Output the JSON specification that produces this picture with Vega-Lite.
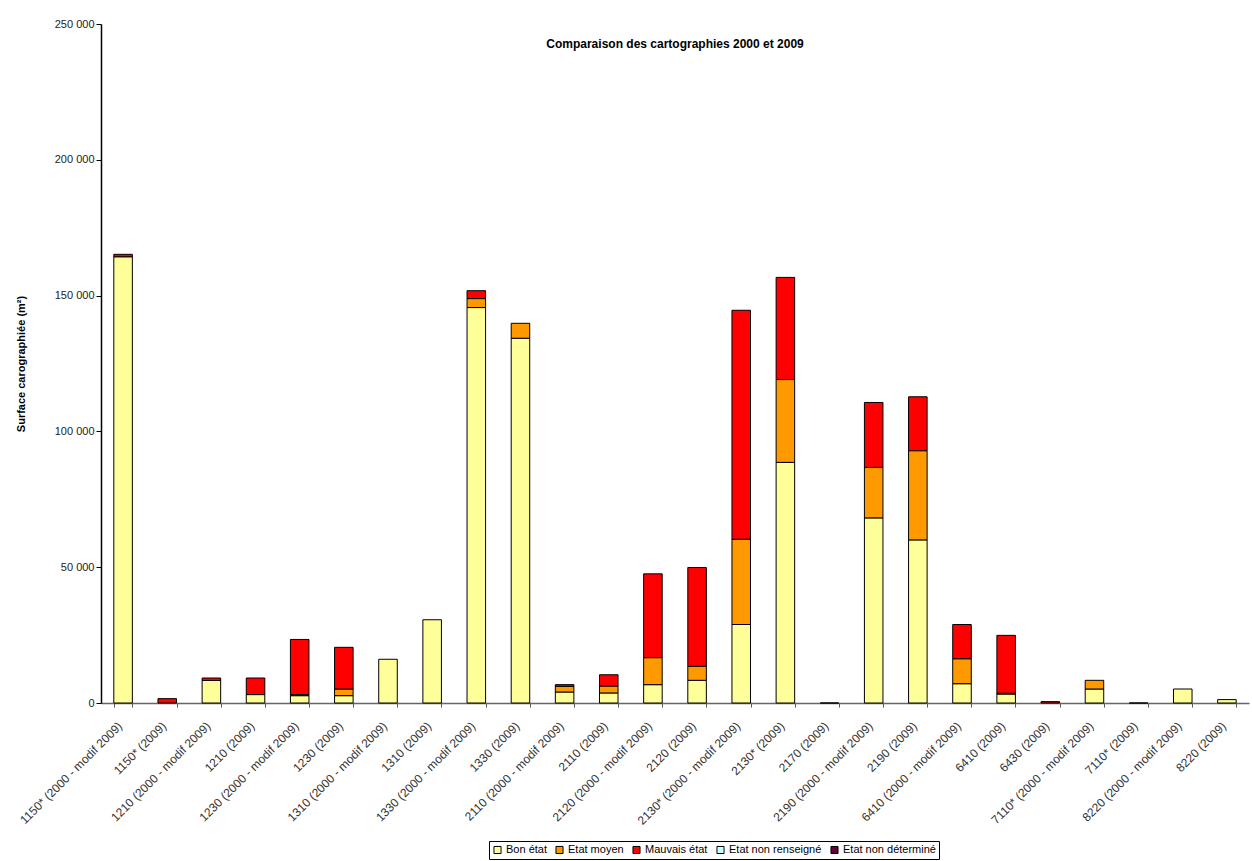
{
  "$schema": "https://vega.github.io/schema/vega-lite/v6.json",
  "autosize": {"type": "none"},
  "padding": {"left": 101, "top": 24, "right": 3, "bottom": 158},
  "width": 1148,
  "height": 679,
  "background": "white",
  "config": {
    "locale": {"number": {"decimal": ",", "thousands": " ", "grouping": [3], "currency": ["", " €"]}},
    "font": "Liberation Sans",
    "view": {"stroke": null}
  },
  "title": {
    "text": "Comparaison des cartographies 2000 et 2009",
    "font": "Liberation Sans",
    "fontSize": 12,
    "fontWeight": "bold",
    "color": "#000000",
    "anchor": "middle",
    "offset": -33
  },
  "data": {
    "values": [
      {"habitat": "1150* (2000 - modif 2009)", "etat": "Bon état", "surface": 164300},
      {"habitat": "1150* (2000 - modif 2009)", "etat": "Mauvais état", "surface": 900},
      {"habitat": "1150* (2009)", "etat": "Mauvais état", "surface": 1600},
      {"habitat": "1210 (2000 - modif 2009)", "etat": "Bon état", "surface": 8300},
      {"habitat": "1210 (2000 - modif 2009)", "etat": "Mauvais état", "surface": 900},
      {"habitat": "1210 (2009)", "etat": "Bon état", "surface": 3100},
      {"habitat": "1210 (2009)", "etat": "Mauvais état", "surface": 6100},
      {"habitat": "1230 (2000 - modif 2009)", "etat": "Bon état", "surface": 2700},
      {"habitat": "1230 (2000 - modif 2009)", "etat": "Etat moyen", "surface": 400},
      {"habitat": "1230 (2000 - modif 2009)", "etat": "Mauvais état", "surface": 20300},
      {"habitat": "1230 (2009)", "etat": "Bon état", "surface": 2700},
      {"habitat": "1230 (2009)", "etat": "Etat moyen", "surface": 2450},
      {"habitat": "1230 (2009)", "etat": "Mauvais état", "surface": 15350},
      {"habitat": "1310 (2000 - modif 2009)", "etat": "Bon état", "surface": 16100},
      {"habitat": "1310 (2009)", "etat": "Bon état", "surface": 30650},
      {"habitat": "1330 (2000 - modif 2009)", "etat": "Bon état", "surface": 145600},
      {"habitat": "1330 (2000 - modif 2009)", "etat": "Etat moyen", "surface": 3300},
      {"habitat": "1330 (2000 - modif 2009)", "etat": "Mauvais état", "surface": 2900},
      {"habitat": "1330 (2009)", "etat": "Bon état", "surface": 134300},
      {"habitat": "1330 (2009)", "etat": "Etat moyen", "surface": 5500},
      {"habitat": "2110 (2000 - modif 2009)", "etat": "Bon état", "surface": 4050},
      {"habitat": "2110 (2000 - modif 2009)", "etat": "Etat moyen", "surface": 2100},
      {"habitat": "2110 (2000 - modif 2009)", "etat": "Mauvais état", "surface": 600},
      {"habitat": "2110 (2009)", "etat": "Bon état", "surface": 3700},
      {"habitat": "2110 (2009)", "etat": "Etat moyen", "surface": 2550},
      {"habitat": "2110 (2009)", "etat": "Mauvais état", "surface": 4150},
      {"habitat": "2120 (2000 - modif 2009)", "etat": "Bon état", "surface": 6750},
      {"habitat": "2120 (2000 - modif 2009)", "etat": "Etat moyen", "surface": 9950},
      {"habitat": "2120 (2000 - modif 2009)", "etat": "Mauvais état", "surface": 30850},
      {"habitat": "2120 (2009)", "etat": "Bon état", "surface": 8350},
      {"habitat": "2120 (2009)", "etat": "Etat moyen", "surface": 5150},
      {"habitat": "2120 (2009)", "etat": "Mauvais état", "surface": 36400},
      {"habitat": "2130* (2000 - modif 2009)", "etat": "Bon état", "surface": 28900},
      {"habitat": "2130* (2000 - modif 2009)", "etat": "Etat moyen", "surface": 31400},
      {"habitat": "2130* (2000 - modif 2009)", "etat": "Mauvais état", "surface": 84300},
      {"habitat": "2130* (2009)", "etat": "Bon état", "surface": 88600},
      {"habitat": "2130* (2009)", "etat": "Etat moyen", "surface": 30500},
      {"habitat": "2130* (2009)", "etat": "Mauvais état", "surface": 37600},
      {"habitat": "2170 (2009)", "etat": "Bon état", "surface": 0},
      {"habitat": "2190 (2000 - modif 2009)", "etat": "Bon état", "surface": 68150},
      {"habitat": "2190 (2000 - modif 2009)", "etat": "Etat moyen", "surface": 18600},
      {"habitat": "2190 (2000 - modif 2009)", "etat": "Mauvais état", "surface": 23900},
      {"habitat": "2190 (2009)", "etat": "Bon état", "surface": 60050},
      {"habitat": "2190 (2009)", "etat": "Etat moyen", "surface": 32850},
      {"habitat": "2190 (2009)", "etat": "Mauvais état", "surface": 19850},
      {"habitat": "6410 (2000 - modif 2009)", "etat": "Bon état", "surface": 7100},
      {"habitat": "6410 (2000 - modif 2009)", "etat": "Etat moyen", "surface": 9200},
      {"habitat": "6410 (2000 - modif 2009)", "etat": "Mauvais état", "surface": 12600},
      {"habitat": "6410 (2009)", "etat": "Bon état", "surface": 3300},
      {"habitat": "6410 (2009)", "etat": "Etat moyen", "surface": 300},
      {"habitat": "6410 (2009)", "etat": "Mauvais état", "surface": 21300},
      {"habitat": "6430 (2009)", "etat": "Mauvais état", "surface": 500},
      {"habitat": "7110* (2000 - modif 2009)", "etat": "Bon état", "surface": 5150},
      {"habitat": "7110* (2000 - modif 2009)", "etat": "Etat moyen", "surface": 3200},
      {"habitat": "7110* (2009)", "etat": "Bon état", "surface": 0},
      {"habitat": "8220 (2000 - modif 2009)", "etat": "Bon état", "surface": 5150},
      {"habitat": "8220 (2009)", "etat": "Bon état", "surface": 1250}
    ]
  },
  "mark": {"type": "bar", "stroke": "#000000", "strokeWidth": 1},
  "encoding": {
    "x": {
      "field": "habitat",
      "type": "nominal",
      "sort": null,
      "scale": {"paddingInner": 0.58, "paddingOuter": 0.29},
      "axis": {
        "title": null,
        "labelAngle": -45,
        "labelAlign": "right",
        "labelBaseline": "top",
        "labelFont": "Liberation Sans",
        "labelFontSize": 12,
        "labelColor": "#333333",
        "labelPadding": 13,
        "labelOffset": -7,
        "tickBand": "extent",
        "tickColor": "#555555",
        "tickSize": 4,
        "domainColor": "#666666",
        "domainWidth": 1.5,
        "labelLimit": 300
      }
    },
    "y": {
      "field": "surface",
      "type": "quantitative",
      "aggregate": "sum",
      "stack": "zero",
      "scale": {"domain": [0, 250000], "nice": false},
      "axis": {
        "title": "Surface carographiée (m²)",
        "titleFont": "Liberation Sans",
        "titleFontSize": 11,
        "titleFontWeight": "bold",
        "titleColor": "#000000",
        "titlePadding": 28,
        "values": [0, 50000, 100000, 150000, 200000, 250000],
        "format": ",d",
        "labelFont": "Liberation Sans",
        "labelFontSize": 11,
        "labelColor": "#222222",
        "grid": false,
        "tickColor": "#000000",
        "tickSize": 5,
        "domainColor": "#000000",
        "domainWidth": 1.5
      }
    },
    "color": {
      "field": "etat",
      "type": "nominal",
      "scale": {
        "domain": ["Bon état", "Etat moyen", "Mauvais état", "Etat non renseigné", "Etat non déterminé"],
        "range": ["#FFFF99", "#FF9900", "#FF0000", "#CCFFFF", "#660033"]
      },
      "legend": {
        "title": null,
        "orient": "none",
        "legendX": 388,
        "legendY": 817,
        "direction": "horizontal",
        "symbolType": "square",
        "symbolSize": 50,
        "symbolStrokeColor": "#000000",
        "symbolStrokeWidth": 1,
        "labelFont": "Liberation Sans",
        "labelFontSize": 11,
        "labelColor": "#000000",
        "labelOffset": 3,
        "columnPadding": 6,
        "padding": 3,
        "strokeColor": "#000000",
        "fillColor": "#FFFFFF"
      }
    },
    "order": {"field": "etat", "sort": "ascending"}
  }
}
